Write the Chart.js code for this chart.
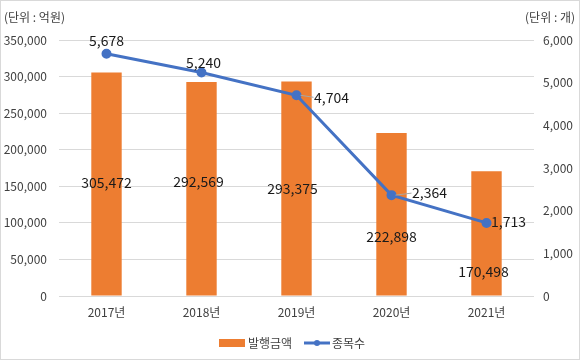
<!DOCTYPE html>
<html><head><meta charset="utf-8">
<script src="https://cdn.jsdelivr.net/npm/chart.js@4/dist/chart.umd.min.js"></script>
<style>html,body{margin:0;padding:0;background:#fff}#wrap{width:580px;height:360px;position:relative}</style>
</head><body><div id="wrap"><canvas id="c" width="580" height="360"></canvas></div>
<script>
const categories = ['2017년','2018년','2019년','2020년','2021년'];
const amounts = [305472, 292569, 293375, 222898, 170498];
const counts = [5678, 5240, 4704, 2364, 1713];
const leftTicks = [0, 50000, 100000, 150000, 200000, 250000, 300000, 350000];
const rightTicks = [0, 1000, 2000, 3000, 4000, 5000, 6000];
const seriesNames = ['발행금액', '종목수'];
const unitLeft = '(단위 : 억원)';
const unitRight = '(단위 : 개)';

const ORANGE = '#ED7D31', BLUE = '#4472C4';
const FONT = "'Noto Sans CJK KR', 'Noto Sans', sans-serif";
// label offsets (px) for data labels
const barLabelOff = [[0,-1],[-3,-7],[-4,0],[0,22],[-3,38]];
const lineLabelOff = [[0,-13,false],[2,-10,false],[35,2,true],[38,-2,true],[22,-1,false]];
const fmt = v => v.toLocaleString('en-US');

const extras = {
  id: 'extras',
  afterDatasetsDraw(chart) {
    const ctx = chart.ctx;
    ctx.save();
    ctx.font = '14px ' + FONT;
    ctx.fillStyle = '#1a1a1a';
    ctx.textAlign = 'center';
    ctx.textBaseline = 'middle';
    const barMeta = chart.getDatasetMeta(0);
    barMeta.data.forEach((b, i) => {
      const cy = (b.y + b.base) / 2;
      ctx.fillText(fmt(amounts[i]), b.x + barLabelOff[i][0], cy + barLabelOff[i][1]);
    });
    const lineMeta = chart.getDatasetMeta(1);
    lineMeta.data.forEach((p, i) => {
      const [dx, dy, leader] = lineLabelOff[i];
      const lx = p.x + dx, ly = p.y + dy;
      if (leader) {
        ctx.strokeStyle = '#a6a6a6';
        ctx.lineWidth = 1;
        ctx.beginPath();
        ctx.moveTo(p.x + 4, p.y);
        ctx.lineTo(lx - 18, ly);
        ctx.stroke();
      }
      ctx.fillText(fmt(counts[i]), lx, ly);
    });
    ctx.restore();
  },
  afterDraw(chart) {
    const ctx = chart.ctx;
    ctx.save();
    ctx.font = '12px ' + FONT;
    ctx.fillStyle = '#404040';
    ctx.textBaseline = 'middle';
    ctx.textAlign = 'left';
    ctx.fillText(unitLeft, 4, 17);
    ctx.textAlign = 'right';
    ctx.fillText(unitRight, 575, 17);
    // legend
    ctx.font = '12px ' + FONT;
    ctx.textAlign = 'left';
    const ly = 343;
    ctx.fillStyle = ORANGE;
    ctx.fillRect(219, ly - 4, 26, 8);
    ctx.fillStyle = '#404040';
    ctx.fillText(seriesNames[0], 248, ly);
    ctx.strokeStyle = BLUE; ctx.lineWidth = 3;
    ctx.beginPath(); ctx.moveTo(304, ly); ctx.lineTo(330, ly); ctx.stroke();
    ctx.fillStyle = BLUE;
    ctx.beginPath(); ctx.arc(317, ly, 3, 0, Math.PI*2); ctx.fill();
    ctx.fillStyle = '#404040';
    ctx.fillText(seriesNames[1], 332, ly);
    // border
    ctx.strokeStyle = '#d9d9d9'; ctx.lineWidth = 1;
    ctx.strokeRect(0.5, 0.5, 579, 359);
    ctx.restore();
  }
};

new Chart(document.getElementById('c'), {
  type: 'bar',
  data: {
    labels: categories,
    datasets: [
      { type: 'line', label: seriesNames[1], data: counts, yAxisID: 'y1', borderColor: BLUE, backgroundColor: BLUE,
        borderWidth: 3, pointRadius: 3.5, pointBackgroundColor: BLUE, pointBorderColor: BLUE, tension: 0, order: 0 },
      { type: 'bar', label: seriesNames[0], data: amounts, yAxisID: 'y', backgroundColor: ORANGE,
        categoryPercentage: 1, barPercentage: 0.32, order: 1 }
    ].reverse()
  },
  options: {
    responsive: false, animation: false, devicePixelRatio: 1,
    layout: { padding: { top: 40, left: 0, right: 0, bottom: 0 } },
    plugins: { legend: { display: false }, tooltip: { enabled: false } },
    scales: {
      x: {
        grid: { display: false, drawTicks: false },
        border: { display: false },
        ticks: { padding: 9, color: '#404040', font: { size: 12, family: FONT } },
        afterFit(s) { s.height = 64; }
      },
      y: {
        position: 'left', min: 0, max: 350000,
        afterBuildTicks(s) { s.ticks = leftTicks.map(v => ({ value: v })); },
        grid: { color: '#d9d9d9', drawTicks: false },
        border: { display: false },
        ticks: { padding: 12, color: '#404040', font: { size: 12, family: FONT }, callback: v => fmt(v) },
        afterFit(s) { s.width = 59; }
      },
      y1: {
        position: 'right', min: 0, max: 6000,
        afterBuildTicks(s) { s.ticks = rightTicks.map(v => ({ value: v })); },
        grid: { display: false, drawTicks: false },
        border: { display: false },
        ticks: { padding: 9, color: '#404040', font: { size: 12, family: FONT }, callback: v => fmt(v) },
        afterFit(s) { s.width = 46; }
      }
    }
  },
  plugins: [extras]
});
</script></body></html>
